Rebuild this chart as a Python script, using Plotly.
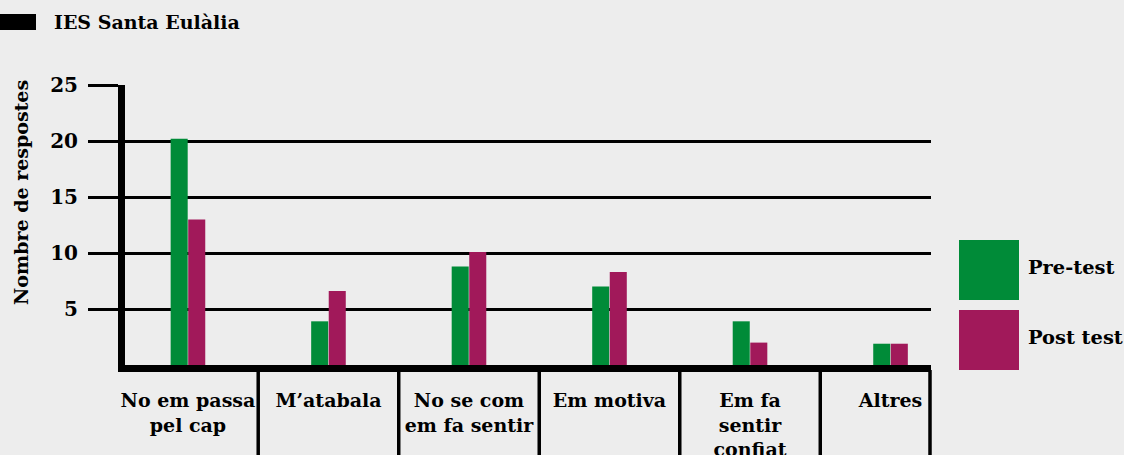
import plotly.graph_objects as go

# Survey answers per category, before and after the intervention
categories = [
    "No em passa<br>pel cap",
    "M’atabala",
    "No se com<br>em fa sentir",
    "Em motiva",
    "Em fa<br>sentir<br>confiat",
    "Altres",
]
pre_test = [20.2, 3.9, 8.8, 7.0, 3.9, 1.9]
post_test = [13.0, 6.6, 10.1, 8.3, 2.0, 1.9]
y_ticks = [5, 10, 15, 20, 25]

GREEN = "#008b38"
PURPLE = "#a1195a"
BG = "#ededed"
FONT = "DejaVu Serif"

W, H = 1124, 455
L, R, T, B = 125, 931, 85, 365  # plot area in pixels


def px_x(x):
    return (x - L) / (R - L)


def px_y(y):
    return (B - y) / (B - T)


fig = go.Figure()
fig.add_trace(go.Bar(x=categories, y=pre_test, name="Pre-test",
                     marker=dict(color=GREEN, line=dict(width=0))))
fig.add_trace(go.Bar(x=categories, y=post_test, name="Post test",
                     marker=dict(color=PURPLE, line=dict(width=0))))

shapes = []
# vertical separators between category labels
for i in range(len(categories) - 1):
    shapes.append(dict(type="line", xref="x", yref="paper",
                       x0=i + 0.5, x1=i + 0.5, y0=px_y(370), y1=px_y(460),
                       line=dict(color="black", width=3.5)))
shapes.append(dict(type="line", xref="paper", yref="paper",
                   x0=px_x(930), x1=px_x(930), y0=px_y(370), y1=px_y(460),
                   line=dict(color="black", width=3.5)))
# header marker
shapes.append(dict(type="rect", xref="paper", yref="paper",
                   x0=px_x(0), x1=px_x(36), y0=px_y(30), y1=px_y(14),
                   fillcolor="black", line=dict(width=0)))
# legend swatches
shapes.append(dict(type="rect", xref="paper", yref="paper",
                   x0=px_x(959), x1=px_x(1019), y0=px_y(300), y1=px_y(240),
                   fillcolor=GREEN, line=dict(width=0)))
shapes.append(dict(type="rect", xref="paper", yref="paper",
                   x0=px_x(959), x1=px_x(1019), y0=px_y(370), y1=px_y(310),
                   fillcolor=PURPLE, line=dict(width=0)))

LEGEND_FONT = dict(family=FONT, size=19.4, color="black", weight="bold")
annotations = [
    dict(text="IES Santa Eulàlia", xref="paper", yref="paper",
         x=px_x(52), y=px_y(22), xanchor="left", yanchor="middle",
         showarrow=False, font=dict(family=FONT, size=19, color="black", weight="bold")),
    dict(text="Nombre de respostes", xref="paper", yref="paper",
         x=px_x(21), y=px_y(193), xanchor="center", yanchor="middle",
         textangle=-90, showarrow=False,
         font=dict(family=FONT, size=19, color="black", weight="bold")),
    dict(text="Pre-test", xref="paper", yref="paper",
         x=px_x(1026), y=px_y(267), xanchor="left", yanchor="middle",
         showarrow=False, font=LEGEND_FONT),
    dict(text="Post test", xref="paper", yref="paper",
         x=px_x(1026), y=px_y(337), xanchor="left", yanchor="middle",
         showarrow=False, font=LEGEND_FONT),
]

fig.update_layout(
    width=W, height=H,
    margin=dict(l=L, r=W - R, t=T, b=H - B, pad=0, autoexpand=False),
    paper_bgcolor=BG, plot_bgcolor=BG,
    barmode="group", bargap=0.75, bargroupgap=0.03,
    showlegend=False,
    shapes=shapes, annotations=annotations,
    font=dict(family=FONT, color="black"),
)
fig.update_xaxes(
    type="category", range=[-0.448, 5.288], automargin=False,
    showline=True, linewidth=7, linecolor="black",
    showgrid=False, ticks="", ticklabelstandoff=12,
    tickfont=dict(family=FONT, size=19, color="black", weight="bold"),
)
fig.update_yaxes(
    range=[0, 25], tickvals=y_ticks, automargin=False,
    showline=True, linewidth=7, linecolor="black",
    showgrid=True, gridcolor="black", gridwidth=3,
    ticks="outside", ticklen=30, tickwidth=3, tickcolor="black",
    ticklabelstandoff=6, zeroline=False,
    tickfont=dict(family=FONT, size=20, color="black", weight="bold"),
)

fig.write_html("out.html")
